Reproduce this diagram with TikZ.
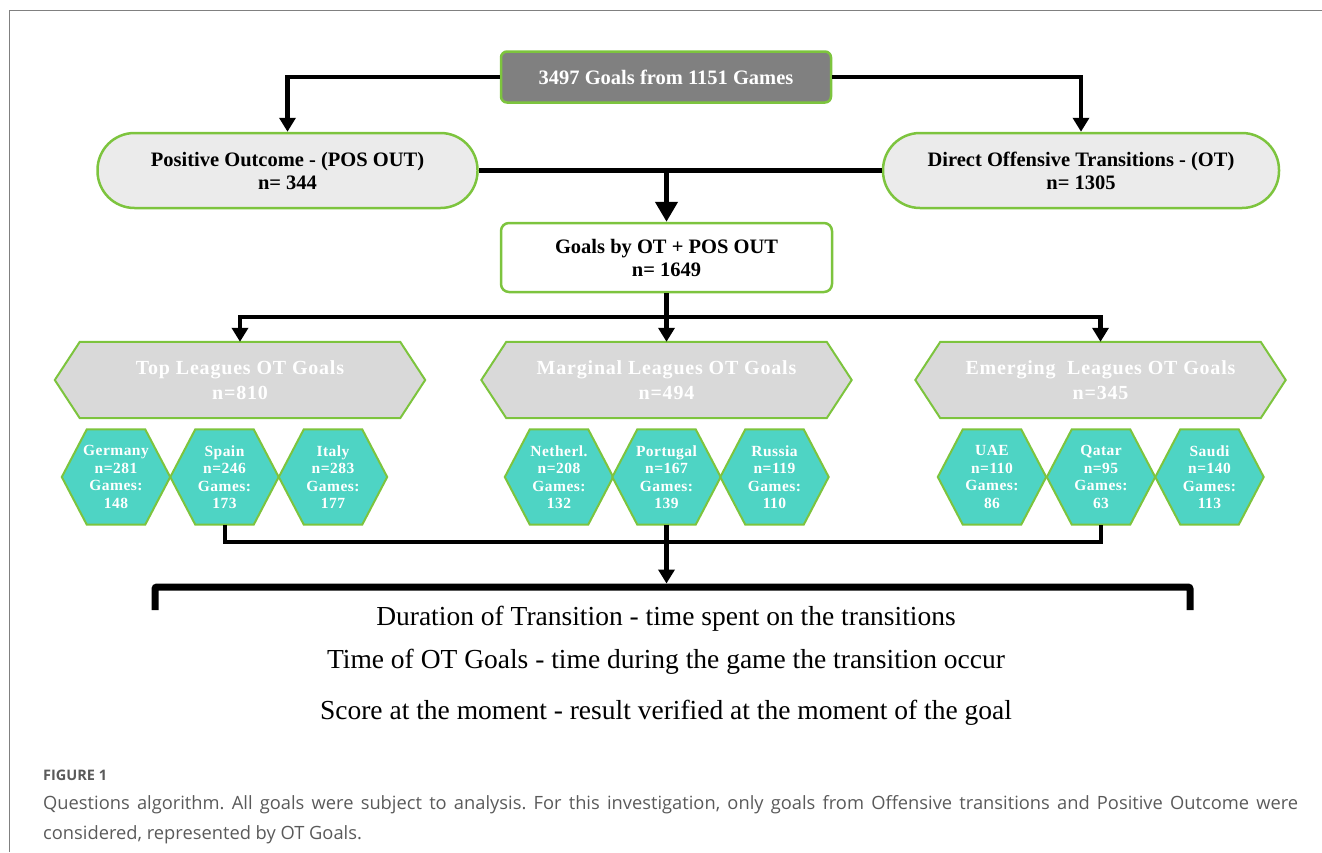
\documentclass[tikz,border=0pt]{standalone}
\usepackage{fontspec}
\setmainfont{Liberation Serif}
\newfontfamily\capfont{Open Sans}
\usetikzlibrary{arrows.meta,backgrounds}
\definecolor{lgreen}{RGB}{125,196,62}
\definecolor{topgray}{RGB}{128,128,128}
\definecolor{stadfill}{RGB}{235,235,235}
\definecolor{hexgray}{RGB}{217,217,217}
\definecolor{tealfill}{RGB}{78,212,196}
\definecolor{capgray}{RGB}{90,90,90}
\definecolor{framegray}{RGB}{128,128,128}
\tikzset{
  conn/.style={line width=4.5pt, black},
  arr/.style={-{Triangle[length=14pt,width=16pt]}},
  bigarr/.style={-{Triangle[length=20pt,width=22pt]}},
  boxfont/.style={font=\bfseries\fontsize{20.5}{23}\selectfont},
  topbox/.style={rounded corners=6pt, fill=topgray, draw=lgreen, line width=2.5pt,
    minimum width=330pt, minimum height=51pt, text=white, boxfont},
  stadbox/.style={rounded corners=37pt, fill=stadfill, draw=lgreen, line width=2.5pt,
    minimum width=380pt, minimum height=75pt, align=center, boxfont},
  goalbox/.style={rounded corners=8pt, fill=white, draw=lgreen, line width=2.5pt,
    minimum width=331pt, minimum height=69pt, align=center, boxfont},
  bighex/.style={minimum width=370pt, minimum height=76pt, align=center, text=white,
    inner sep=0pt, font=\bfseries\fontsize{20}{25}\selectfont\addfontfeature{LetterSpace=4}},
  smallhex/.style={minimum width=108pt, minimum height=95pt, align=center, text=white,
    inner sep=0pt, font=\bfseries\fontsize{15.5}{17.5}\selectfont\addfontfeature{LetterSpace=3}},
  hexgrayfill/.style={fill=hexgray, draw=lgreen, line width=2pt},
  hextealfill/.style={fill=tealfill, draw=lgreen, line width=2pt},
  bigtxt/.style={font=\fontsize{27.5}{30}\selectfont, inner sep=0pt},
}
\newcommand\hexshape[3]{%
  \path[#3] (#1.west) -- ([xshift=#2]#1.north west) -- ([xshift=-#2]#1.north east)
    -- (#1.east) -- ([xshift=-#2]#1.south east) -- ([xshift=#2]#1.south west) -- cycle;}
\begin{document}
\begin{tikzpicture}[x=1pt,y=-1pt]
\useasboundingbox (0,0) rectangle (1322,852);
\draw[framegray, line width=1.2pt] (9.5,852) -- (9.5,10.5) -- (1322,10.5);

\node[topbox] (top) at (666,77) {3497 Goals from 1151 Games};
\node[stadbox] (pos) at (287.5,170.5) {Positive Outcome - (POS OUT)\\n= 344};
\node[stadbox, minimum width=396pt] (dot) at (1081,170.5) {Direct Offensive Transitions - (OT)\\n= 1305};
\node[goalbox] (goals) at (666.5,257.5) {Goals by OT + POS OUT\\n= 1649};

\node[bighex] (tl) at (240,380) {Top Leagues OT Goals\\n=810};
\node[bighex] (ml) at (666.5,380) {Marginal Leagues OT Goals\\n=494};
\node[bighex] (el) at (1100.5,380) {Emerging \ Leagues OT Goals\\n=345};

\node[smallhex] (ger) at (116,477) {Germany\\n=281\\Games:\\148};
\node[smallhex] (spa) at (224.5,477) {Spain\\n=246\\Games:\\173};
\node[smallhex] (ita) at (333,477) {Italy\\n=283\\Games:\\177};
\node[smallhex] (net) at (559,477) {Netherl.\\n=208\\Games:\\132};
\node[smallhex] (por) at (666.5,477) {Portugal\\n=167\\Games:\\139};
\node[smallhex] (rus) at (774.5,477) {Russia\\n=119\\Games:\\110};
\node[smallhex] (uae) at (992,477) {UAE\\n=110\\Games:\\86};
\node[smallhex] (qat) at (1101,477) {Qatar\\n=95\\Games:\\63};
\node[smallhex] (sau) at (1209.5,477) {Saudi\\n=140\\Games:\\113};

\begin{pgfonlayer}{background}
  \foreach \h in {tl,ml,el}{\hexshape{\h}{25pt}{hexgrayfill}}
  \foreach \h in {ger,spa,ita,net,por,rus,uae,qat,sau}{\hexshape{\h}{25pt}{hextealfill}}
\end{pgfonlayer}

% connectors
\draw[conn,arr] (top.west) -| (pos.north);
\draw[conn,arr] (top.east) -| (dot.north);
\draw[conn] (pos.east) -- (dot.west);
\draw[conn,bigarr] (goals.north |- pos.east) -- (goals.north);
\coordinate (split) at (666.5,317);
\draw[conn] (goals.south) -- (split);
\draw[conn,arr] (split) -| (tl.north);
\draw[conn,arr] (split) -| (el.north);
\draw[conn,arr] (split) -- (ml.north);

\coordinate (merge) at (666.5,542);
\draw[conn, line width=4pt] (spa.south) |- (merge) -| (qat.south);
\draw[line width=7pt, rounded corners=2pt] (155,610) -- (155,587) -- (1190,587) -- (1190,610);
\coordinate (brk) at (666.5,583.5);
\draw[conn,arr] (por.south) -- (brk);

\node[bigtxt] (l1) at (666,619) {Duration of Transition - time spent on the transitions};
\node[bigtxt] (l2) at (666,662) {Time of OT Goals - time during the game the transition occur};
\node[bigtxt] (l3) at (666,713) {Score at the moment - result verified at the moment of the goal};

\node[anchor=west, inner sep=0pt, text=capgray, font=\capfont\bfseries\fontsize{14.5}{16}\selectfont] (fig) at (43,775) {FIGURE 1};
\node[anchor=north west, inner sep=0pt, text=capgray, text width=1255pt, align=justify,
  font=\capfont\fontsize{18.3}{30}\selectfont] (cap) at (43,795)
  {\frenchspacing Questions algorithm. All goals were subject to analysis. For this investigation, only goals from Offensive transitions and Positive Outcome were\linebreak considered, represented by OT Goals.};
\end{tikzpicture}
\end{document}
